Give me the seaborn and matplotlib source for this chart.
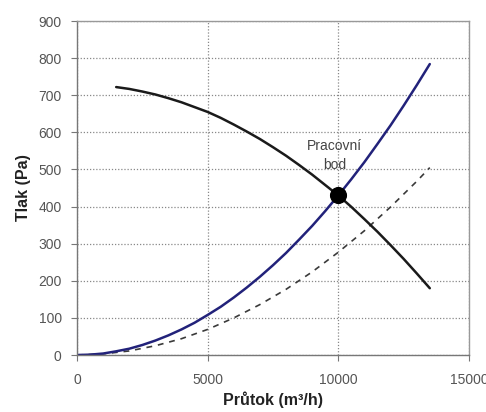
import matplotlib
matplotlib.use("Agg")
import matplotlib.pyplot as plt
import seaborn as sns
import pandas as pd

# Data
fan_x = [1500, 2000, 2500, 3000, 3500, 4000, 4500, 5000, 5500, 6000, 6500, 7000, 7500,
         8000, 8500, 9000, 9500, 10000, 10500, 11000, 11500, 12000, 12500, 13000, 13500]
fan_y = [722, 717, 710, 702, 692, 681, 668, 655, 639, 621, 602, 582, 560,
         537, 512, 486, 458, 430, 399, 366, 332, 296, 259, 220, 180]

sys_x = [0, 500, 1000, 1500, 2000, 2500, 3000, 3500, 4000, 4500, 5000, 5500, 6000, 6500, 7000,
         7500, 8000, 8500, 9000, 9500, 10000, 10500, 11000, 11500, 12000, 12500, 13000, 13500]
sys_y = [0, 1, 4, 10, 17, 27, 39, 53, 69, 87, 108, 130, 155, 182, 211,
         242, 275, 311, 348, 388, 430, 474, 520, 569, 619, 672, 727, 784]

sys2_x = [0, 1000, 2000, 3000, 4000, 5000, 6000, 7000, 8000, 9000, 10000, 11000, 12000, 13000, 13500]
sys2_y = [0, 3, 11, 25, 44, 69, 100, 136, 177, 224, 277, 335, 399, 468, 505]

work_x = [10000]
work_y = [430]
work_label = "Pracovní\nbod"

x_ticks = [0, 5000, 10000, 15000]
y_ticks = [0, 100, 200, 300, 400, 500, 600, 700, 800, 900]

sns.set_style("white")
plt.rcParams['font.family'] = ['Liberation Sans', 'DejaVu Sans']

fig = plt.figure(figsize=(4.86, 4.12), dpi=100)
ax = fig.add_axes([0.1584, 0.1383, 0.8066, 0.8107])

sns.lineplot(x=sys2_x, y=sys2_y, ax=ax, color="#3a3a3a", lw=1.2, linestyle=(0, (3.5, 3.5)))
sns.lineplot(x=sys_x, y=sys_y, ax=ax, color="#22227a", lw=1.8)
sns.lineplot(x=fan_x, y=fan_y, ax=ax, color="#1a1a1a", lw=1.8)
sns.scatterplot(x=work_x, y=work_y, ax=ax, color="black", s=130, zorder=5, edgecolor="black")

ax.text(9870, 537, work_label, ha="center", va="center", fontsize=10, color="#444444", linespacing=1.5)

ax.set_xlim(0, 15000)
ax.set_ylim(0, 900)
ax.set_xticks(x_ticks)
ax.set_yticks(y_ticks)
ax.grid(True, color="#888888", linestyle=(0, (1, 1.5)), lw=0.9)
for s in ax.spines.values():
    s.set_color("#999999")
    s.set_linewidth(1.0)
ax.spines['left'].set_color("#777777")
ax.spines['bottom'].set_color("#777777")
ax.tick_params(axis='both', which='both', direction='out', length=4, width=0.8, color="#777777",
               labelsize=10, labelcolor="#555555", bottom=True, left=True)
ax.tick_params(axis='y', pad=7)
ax.tick_params(axis='x', pad=9)
ax.set_xlabel("Průtok (m³/h)", fontsize=11.5, fontweight="bold", color="#222222", labelpad=3)
ax.set_ylabel("Tlak (Pa)", fontsize=11.5, fontweight="bold", color="#222222", labelpad=5)

fig.savefig("out.png", dpi=100)
